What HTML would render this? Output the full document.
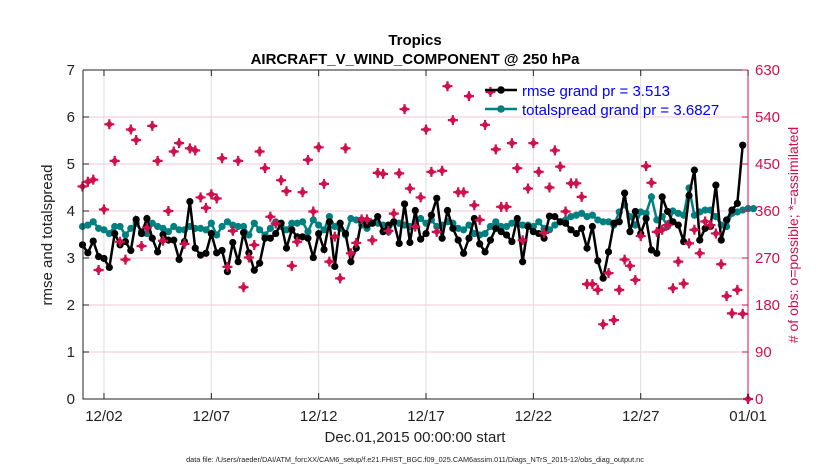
<!DOCTYPE html>
<html><head><meta charset="utf-8"><style>
body{margin:0;background:#fff;}
svg text{font-family:"Liberation Sans",Arial,sans-serif;}
</style></head><body>
<svg id="chart" width="830" height="470" xmlns="http://www.w3.org/2000/svg">
<text x="415" y="45" text-anchor="middle" font-size="15" font-weight="bold">Tropics</text>
<text x="415" y="64" text-anchor="middle" font-size="15" font-weight="bold">AIRCRAFT_V_WIND_COMPONENT @ 250 hPa</text>
<g id="grid"></g>
<g id="marks"></g>
<g id="axes"></g>
<text x="415" y="442" text-anchor="middle" font-size="15" fill="#222">Dec.01,2015 00:00:00 start</text>
<text transform="translate(52,235) rotate(-90)" text-anchor="middle" font-size="15" fill="#222">rmse and totalspread</text>
<text transform="translate(798,235) rotate(-90)" text-anchor="middle" font-size="14" fill="#d0104c"># of obs: o=possible; *=assimilated</text>
<text x="415" y="462" text-anchor="middle" font-size="7.3" fill="#222">data file: /Users/raeder/DAI/ATM_forcXX/CAM6_setup/f.e21.FHIST_BGC.f09_025.CAM6assim.011/Diags_NTrS_2015-12/obs_diag_output.nc</text>
<g>
<line x1="485" y1="90" x2="517" y2="90" stroke="#000" stroke-width="2.5"/><circle cx="501" cy="90" r="3.8" fill="#000"/>
<text x="522" y="96" font-size="15" fill="#0000ff">rmse grand pr = 3.513</text>
<line x1="485" y1="109" x2="517" y2="109" stroke="#008080" stroke-width="2.5"/><circle cx="501" cy="109" r="3.8" fill="#008080"/>
<text x="522" y="115" font-size="15" fill="#0000ff">totalspread grand pr = 3.6827</text>
</g>
</svg>
<script>
const rmse=[3.28,3.11,3.36,3.03,2.99,2.80,3.52,3.28,3.35,3.16,3.82,3.52,3.84,3.42,3.13,3.50,3.38,3.38,2.97,3.35,4.20,3.21,3.06,3.10,3.52,3.11,3.16,2.71,3.33,2.92,3.54,3.11,2.74,2.89,3.42,3.42,3.52,3.74,3.21,3.60,3.45,3.45,3.42,3.01,3.52,3.18,3.77,2.82,3.74,3.52,2.92,3.21,3.81,3.70,3.74,3.88,3.56,3.70,3.77,3.31,4.15,3.33,4.01,3.40,3.52,3.91,4.27,3.42,4.01,3.63,3.38,3.10,3.42,3.84,3.30,3.13,3.38,3.63,3.56,3.49,3.35,3.84,2.92,3.67,3.56,3.52,3.42,3.89,3.88,3.77,3.74,3.60,3.52,3.63,3.21,3.67,2.94,2.57,3.13,3.74,3.77,4.38,3.56,3.99,3.52,3.84,3.17,3.10,4.30,3.99,3.77,3.70,3.35,4.33,4.87,3.38,3.63,3.67,4.55,3.38,3.81,4.02,4.16,5.40];
const spread=[3.67,3.70,3.77,3.63,3.60,3.52,3.67,3.67,3.49,3.63,3.74,3.56,3.52,3.74,3.67,3.63,3.56,3.67,3.60,3.60,3.67,3.63,3.63,3.60,3.74,3.49,3.67,3.77,3.70,3.67,3.67,3.49,3.74,3.60,3.49,3.63,3.77,3.67,3.60,3.74,3.74,3.77,3.56,3.81,3.70,3.60,3.88,3.67,3.63,3.49,3.84,3.81,3.70,3.63,3.74,3.74,3.70,3.56,3.77,3.74,3.70,3.67,3.77,3.84,3.74,3.81,3.67,3.70,3.77,3.74,3.63,3.60,3.70,3.52,3.49,3.52,3.67,3.77,3.67,3.67,3.74,3.74,3.70,3.70,3.67,3.77,3.63,3.60,3.70,3.77,3.81,3.88,3.91,3.95,3.88,3.91,3.81,3.77,3.77,3.70,3.98,4.13,3.88,3.70,3.98,3.95,4.30,3.81,3.88,3.67,4.00,3.95,3.91,4.49,3.91,3.98,4.02,4.02,3.88,3.70,3.67,3.95,3.98,4.02,4.05,4.05];
const obs=[407,416,420,247,363,526,456,301,267,516,496,293,328,523,456,303,360,474,490,297,480,476,386,366,392,384,461,253,322,456,214,271,295,474,442,349,336,419,398,255,301,396,458,359,482,412,263,311,231,480,279,299,344,344,304,433,431,322,355,432,555,403,330,386,516,435,320,437,599,534,396,396,580,371,343,525,588,478,368,368,490,442,304,403,490,435,318,405,476,445,359,413,413,387,220,220,209,143,241,151,209,267,255,228,312,446,414,320,324,333,212,263,221,298,324,279,340,333,317,258,197,164,209,163,0];
const xTicks=['12/02','12/07','12/12','12/17','12/22','12/27','01/01'];
const xTickDays=[1,6,11,16,21,26,31];
const yTicks=[0,1,2,3,4,5,6,7];
const yTicksRight=[0,90,180,270,360,450,540,630];

const L=83,R=748,T=70,B=399,D0=82.5,PX=21.47;
const NS='http://www.w3.org/2000/svg';
const xd=d=>D0+d*PX;
const xi=i=>xd(i/4);
const yl=v=>B-(v/7)*(B-T);
const yr=v=>B-(v/630)*(B-T);
function mk(tag,attrs,parent){const e=document.createElementNS(NS,tag);for(const k in attrs)e.setAttribute(k,attrs[k]);parent.appendChild(e);return e;}
const grid=document.getElementById('grid'),marks=document.getElementById('marks'),axes=document.getElementById('axes');
yTicks.forEach(v=>{if(v>0&&v<7){const g=mk('line',{x1:L,x2:R,y1:yl(v),y2:yl(v),stroke:'#f4c6d6','stroke-width':1},grid);

}});
xTickDays.forEach(d=>{if(d<31){const g=mk('line',{x1:xd(d),x2:xd(d),y1:T,y2:B,stroke:'#ddd','stroke-width':1},grid);

}});
function series(vals,color,name){
const p=mk('polyline',{points:vals.map((v,i)=>xi(i)+','+yl(v)).join(' '),fill:'none',stroke:color,'stroke-width':2.5},marks);


vals.forEach((v,i)=>{const c=mk('circle',{cx:xi(i),cy:yl(v),r:3.6,fill:color},marks);

});}
series(spread,'#008080','spread');
series(rmse,'#000000','rmse');
// obs markers on top
obs.forEach((v,i)=>{const g=mk('g',{transform:`translate(${xi(i)},${yr(v)})`},marks);


mk('path',{d:'M-5,0H5M0,-5V5',stroke:'#d0104c','stroke-width':2.2},g);
mk('path',{d:'M0,-4L4,0L0,4L-4,0Z',fill:'#d0104c'},g);});
// axes
const ax=mk('path',{d:`M${L},${T}V${B}H${R}M${L},${T}H${R}`,stroke:'#222',fill:'none','stroke-width':1},axes);


const ra=mk('line',{x1:R,x2:R,y1:T,y2:B,stroke:'#d0104c','stroke-width':1},axes);


yTicks.forEach(v=>{mk('line',{x1:L,x2:L+6,y1:yl(v),y2:yl(v),stroke:'#222'},axes);
const t=mk('text',{x:L-8,y:yl(v)+5,'text-anchor':'end','font-size':15,fill:'#222'},axes);t.textContent=v;

});
yTicksRight.forEach(v=>{mk('line',{x1:R-6,x2:R,y1:yr(v),y2:yr(v),stroke:'#d0104c'},axes);
const t=mk('text',{x:R+7,y:yr(v)+5,'font-size':15,fill:'#d0104c'},axes);t.textContent=v;

});
xTicks.forEach((s,k)=>{const x=xd(xTickDays[k]);mk('line',{x1:x,x2:x,y1:B,y2:B-6,stroke:'#222'},axes);mk('line',{x1:x,x2:x,y1:T,y2:T+6,stroke:'#222'},axes);
const t=mk('text',{x:x,y:B+22,'text-anchor':'middle','font-size':15,fill:'#222'},axes);t.textContent=s;

});
</script>
</body></html>
